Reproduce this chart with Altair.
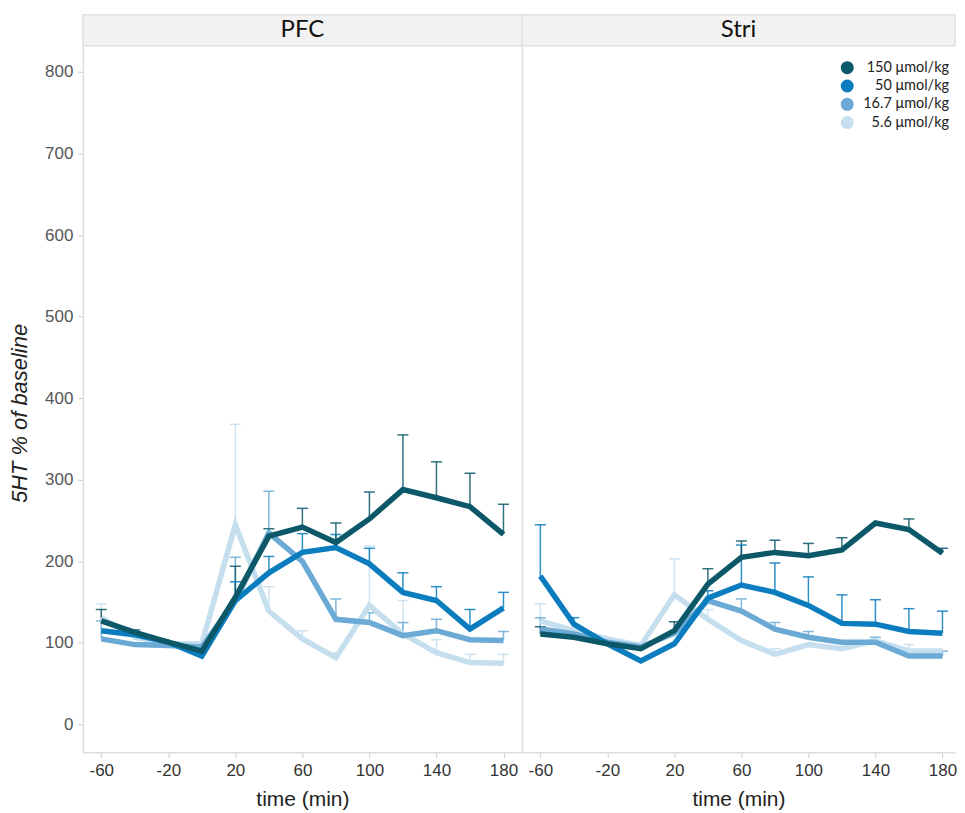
import altair as alt
import pandas as pd
import numpy as np

# ---------------- data ----------------
regions = ["PFC", "Stri"]
times = [-60, -40, -20, 0, 20, 40, 60, 80, 100, 120, 140, 160, 180]
doses = ["150 μmol/kg", "50 μmol/kg", "16.7 μmol/kg", "5.6 μmol/kg"]
colors = ["#0c5868", "#0b7dbf", "#6aaad4", "#c6dfee"]

x_ticks = [-60, -20, 20, 60, 100, 140, 180]
y_ticks = [0, 100, 200, 300, 400, 500, 600, 700, 800]

N = None
# PFC means and upper error-bar ends
pfc_150 = [127, 113, 101, 90, 156, 231, 242, 223, 252, 288, 278, 267, 233]
pfc_150_up = [141, 116, N, N, 194, 240, 265, 247, 285, 355, 322, 308, 270]
pfc_50 = [115, 110, 101, 84, 152, 186, 211, 217, 197, 162, 152, 117, 143]
pfc_50_up = [N, N, N, N, 175, 206, 234, 233, 216, 186, 169, 141, 162]
pfc_16 = [105, 98, 97, 95, 152, 235, 200, 129, 125, 109, 115, 104, 103]
pfc_16_up = [127, N, N, N, 205, 286, N, 154, 137, 125, 129, N, 114]
pfc_5 = [131, 107, 99, 99, 245, 139, 105, 82, 146, 111, 88, 76, 75]
pfc_5_up = [148, N, N, N, 368, 169, 115, 88, 219, 152, 104, 86, 86]

# Stri means and upper error-bar ends
stri_150 = [111, 107, 99, 93, 115, 172, 205, 211, 207, 214, 247, 239, 210]
stri_150_up = [120, 116, N, 99, 126, 191, 225, 226, 222, 229, N, 252, 216]
stri_50 = [182, 123, 99, 78, 99, 155, 171, 162, 146, 124, 123, 114, 112]
stri_50_up = [245, 131, N, N, N, 164, 220, 198, 181, 159, 153, 142, 139]
stri_16 = [117, 111, 101, 95, 112, 152, 139, 117, 107, 101, 101, 84, 84]
stri_16_up = [131, N, N, N, N, N, 154, 125, 114, N, 107, N, 90]
stri_5 = [127, 115, 105, 97, 159, 129, 103, 86, 98, 93, 103, 90, 90]
stri_5_up = [148, N, N, N, 203, 141, N, 93, N, N, N, 98, N]

series = {
    ("PFC", doses[0]): (pfc_150, pfc_150_up),
    ("PFC", doses[1]): (pfc_50, pfc_50_up),
    ("PFC", doses[2]): (pfc_16, pfc_16_up),
    ("PFC", doses[3]): (pfc_5, pfc_5_up),
    ("Stri", doses[0]): (stri_150, stri_150_up),
    ("Stri", doses[1]): (stri_50, stri_50_up),
    ("Stri", doses[2]): (stri_16, stri_16_up),
    ("Stri", doses[3]): (stri_5, stri_5_up),
}

rows = []
for region in regions:
    for dose in reversed(doses):  # lightest drawn first, darkest on top
        vals, ups = series[(region, dose)]
        for t, v, u in zip(times, vals, ups):
            rows.append({"region": region, "dose": dose, "time": t, "value": v,
                         "upper": np.nan if u is None else u})
df = pd.DataFrame(rows)

# ---------------- layout ----------------
PLOT_H = 708
Y_DOMAIN = [-34, 832]
HEADER_H = 31
AXIS_FONT = "Liberation Sans"

color = alt.Color("dose:N", scale=alt.Scale(domain=doses, range=colors), legend=None)


def panel(region, width, x_max, first, with_legend):
    d = df[df.region == region]
    xs = alt.Scale(domain=[-71, x_max], nice=False, zero=False)
    ys = alt.Scale(domain=Y_DOMAIN, nice=False, zero=False)
    x_axis = alt.Axis(values=x_ticks, title="time (min)", grid=False,
                      labelExpr="datum.value + ''",
                      labelFontSize=17, labelColor="#333", labelPadding=5,
                      tickSize=5, tickColor="#cccccc", domainColor="#dddddd",
                      domainWidth=1.5, titleFontSize=21, titleColor="#222",
                      titleFontWeight="normal", titlePadding=10, labelFlush=False)
    if first:
        y_axis = alt.Axis(values=y_ticks, title="5HT % of baseline", grid=False,
                          labelFontSize=17, labelColor="#555", labelPadding=5,
                          tickSize=5, tickColor="#cccccc", domainColor="#dddddd",
                          domainWidth=1.5, titleFontSize=22, titleColor="#222",
                          titleFontStyle="italic", titleFontWeight="normal",
                          titlePadding=13, titleY=368)
    else:
        y_axis = alt.Axis(labels=False, ticks=False, title=None, grid=False,
                          domainColor="#dddddd", domainWidth=1.5)
    x = alt.X("time:Q", scale=xs, axis=x_axis)
    base = alt.Chart(d)
    err = base.transform_filter("isValid(datum.upper)")
    bars = err.mark_rule(strokeWidth=1.5, opacity=0.85).encode(
        x=x, y=alt.Y("value:Q", scale=ys, axis=y_axis), y2="upper:Q", color=color)
    caps = err.mark_tick(orient="horizontal", size=11, thickness=1.5, opacity=0.85).encode(
        x=x, y=alt.Y("upper:Q", scale=ys, axis=y_axis), color=color)
    lines = base.mark_line(strokeWidth=5.5).encode(
        x=x, y=alt.Y("value:Q", scale=ys, axis=y_axis), color=color)

    hdr = alt.Chart(pd.DataFrame({"region": [region]}))
    rect = hdr.mark_rect(fill="#f2f2f2", stroke="#e0e0e0", strokeWidth=1.5).encode(
        x=alt.value(0), x2=alt.value(width), y=alt.value(-HEADER_H), y2=alt.value(0))
    label = hdr.mark_text(font="Lato", fontSize=24, color="#111", baseline="middle").encode(
        x=alt.value(width / 2), y=alt.value(-HEADER_H / 2), text="region:N")

    main = alt.layer(rect, label, bars, caps, lines)
    if with_legend:
        leg = alt.Chart(pd.DataFrame({"dose": doses}))
        ly = alt.Y("dose:N", scale=alt.Scale(domain=doses, range=[22, 77], padding=0), axis=None)
        dots = leg.mark_circle(size=170, opacity=1).encode(x=alt.value(326), y=ly, color=color)
        texts = leg.mark_text(align="right", baseline="middle", font="Lato", fontSize=14.5,
                              color="#222").encode(x=alt.value(428), y=ly, text="dose:N")
        main = alt.layer(main, alt.layer(dots, texts)).resolve_scale(y="independent")
    return main.properties(width=width, height=PLOT_H)


pfc = panel("PFC", 440, 191, True, False)
stri = panel("Stri", 434, 187.5, False, True)

chart = alt.hconcat(pfc, stri, spacing=0, bounds="flush").properties(
    padding={"left": 0, "top": 5, "right": 0, "bottom": 0}
).configure_view(stroke=None).configure_axis(
    labelFont=AXIS_FONT, titleFont=AXIS_FONT
)

chart.save("out.html", embed_options={"renderer": "svg", "actions": False})
